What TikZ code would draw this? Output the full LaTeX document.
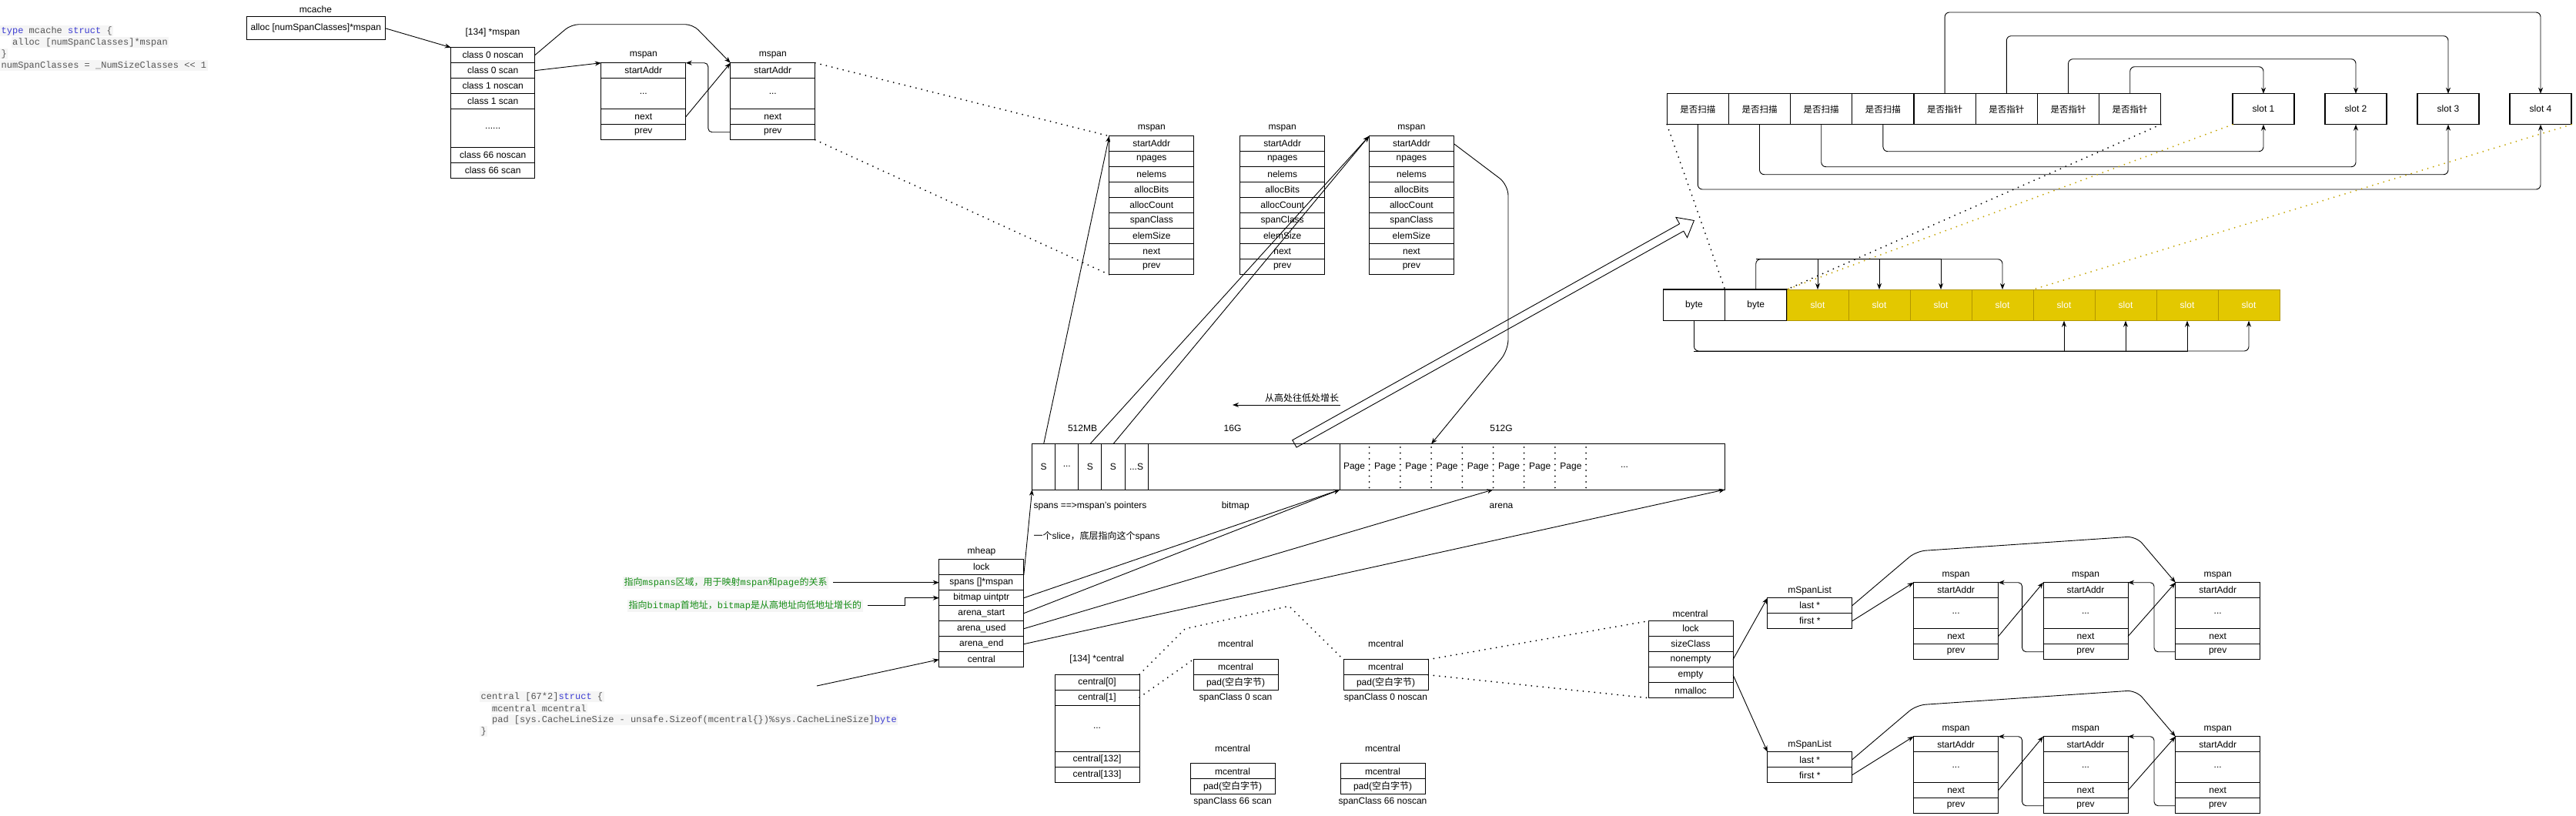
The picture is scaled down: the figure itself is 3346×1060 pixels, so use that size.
\documentclass[tikz,border=0pt]{standalone}
\usepackage{fontspec}
\setmainfont{Liberation Sans}
\setmonofont{Liberation Mono}
\newfontfamily\cjk{Noto Sans CJK SC}
\usetikzlibrary{arrows.meta}

\definecolor{codebg}{RGB}{245,245,245}
\definecolor{codefg}{RGB}{85,85,85}
\definecolor{kwblue}{RGB}{60,60,210}
\definecolor{notegreen}{RGB}{20,140,20}
\definecolor{slotfill}{RGB}{227,200,0}
\definecolor{slotline}{RGB}{178,150,0}
\definecolor{golddot}{RGB}{196,164,0}

\tikzset{
  cell/.style={draw, line width=0.9pt, anchor=north west, minimum width=110pt,
    minimum height=20pt, inner sep=0pt, outer sep=0pt},
  lbl/.style={inner sep=0pt},
  arr/.style={line width=0.9pt, -{Stealth[length=8pt,width=6pt]}},
  dots/.style={line width=2pt, line cap=round, dash pattern=on 0pt off 7.5pt},
  code/.style={anchor=west, fill=codebg, text=codefg, inner sep=1.5pt,
    font=\fontsize{12}{14}\ttfamily},
  note/.style={anchor=west, fill=codebg, text=notegreen, inner sep=1.5pt},
  bitcell/.style={cell, line width=1.2pt, minimum width=80.2pt, minimum height=40pt,
    font=\fontsize{11.5}{13}\cjk},
  slotbox/.style={cell, line width=1.2pt, minimum width=80pt, minimum height=40pt},
  slotcell/.style={cell, fill=slotfill, draw=slotline, text=white,
    minimum width=80pt, minimum height=40.7pt},
}

\begin{document}
\begin{tikzpicture}[x=1pt, y=-1pt, font=\fontsize{12}{14}\selectfont]
  \fill[white] (0,0) rectangle (3346,1060);
  \useasboundingbox (0,0) rectangle (3346,1060);

  % mcache の定義
  \node[code] (cd1) at (0,40) {\textcolor{kwblue}{type} mcache \textcolor{kwblue}{struct} \{};
  \node[code] (cd2) at (14.4,55) {alloc [numSpanClasses]*mspan};
  \node[code] (cd3) at (0,70) {\}};
  \node[code] (cd4) at (0,85) {numSpanClasses = \_NumSizeClasses << 1};

  \node[lbl] at (410,12) {mcache};
  \node[cell, minimum width=180pt, minimum height=30pt] (cache) at (320.3,21.7) {alloc [numSpanClasses]*mspan};

  % [134] *mspan
  \node[lbl] at (640,42.7) {[134] *mspan};
  \node[cell, minimum width=109pt] (cls1) at (585.7,61.7) {class 0 noscan};
  \node[cell, minimum width=109pt] (cls2) at (585.7,81.7) {class 0 scan};
  \node[cell, minimum width=109pt] (cls3) at (585.7,101.7) {class 1 noscan};
  \node[cell, minimum width=109pt] (cls4) at (585.7,121.7) {class 1 scan};
  \node[cell, minimum width=109pt, minimum height=50pt] (cls5) at (585.7,141.7) {......};
  \node[cell, minimum width=109pt] (cls6) at (585.7,191.7) {class 66 noscan};
  \node[cell, minimum width=109pt] (cls7) at (585.7,211.7) {class 66 scan};

  % 小さい mspan
  \foreach \n/\x in {sa/780.8, sb/948.8} {
    \node[lbl] at (\x+55,72) {mspan};
    \node[cell] (\n1) at (\x,81.7) {startAddr};
    \node[cell, minimum height=40pt] (\n2) at (\x,101.7) {...};
    \node[cell] (\n3) at (\x,141.7) {next};
    \node[cell] (\n4) at (\x,161.7) {prev};
  }

  \draw[arr] (cache.east) -- (cls1.north west);
  \draw[arr] (cls2.east) -- (sa1.north west);
  \draw[arr, rounded corners=10pt] (cls1.east) -- (742,31.7) -- (900,31.7) -- (sb1.north west);
  \draw[arr] (sa3.east) -- (sb1.north west);
  \draw[arr, rounded corners=5pt] (sb4.west) -- ++(-29,0) |- (sa1.north east);

  % 大きい mspan
  \foreach \n/\x in {pa/1440.8, pb/1610.7, pc/1778.4} {
    \node[lbl] at (\x+55,167) {mspan};
    \foreach \lab [count=\i] in {startAddr,npages,nelems,allocBits,allocCount,spanClass,elemSize,next,prev}
      \node[cell] (\n\i) at (\x,{176.7+20*(\i-1)}) {\lab};
  }
  \draw[dots] (sb1.north east) -- (pa1.north west);
  \draw[dots] (sb4.south east) -- (pa9.south west);

  % spans / bitmap / arena
  \node[draw, line width=0.9pt, anchor=north west, minimum width=899.9pt, minimum height=59.3pt,
    inner sep=0pt, outer sep=0pt] (bar) at (1340.6,576.7) {};
  \node[cell, minimum width=30.1pt, minimum height=59.3pt] (s1) at (1340.6,576.7) {S};
  \node[cell, minimum width=30.1pt, minimum height=59.3pt] (s2) at (1370.7,576.7) {...};
  \node[cell, minimum width=30.1pt, minimum height=59.3pt] (s3) at (1400.8,576.7) {S};
  \node[cell, minimum width=30.1pt, minimum height=59.3pt] (s4) at (1430.9,576.7) {S};
  \node[cell, minimum width=30.1pt, minimum height=59.3pt] (s5) at (1461,576.7) {...S};
  \coordinate (split) at (1740.6,636);
  \draw[line width=0.9pt] (split) -- (split |- bar.north);
  \foreach \k in {0,...,7} {
    \node[lbl] at ({1759+40.2*\k},606.7) {Page};
    \draw[dots] ({1778.7+40.2*\k},581) -- ++(0,55);
  }
  \node[lbl] at (2110,606.7) {...};
  \coordinate (pg3) at (1859.1,576.7);
  \coordinate (pg5) at (1939.5,636);

  \node[lbl] at (1406,556.7) {512MB};
  \node[lbl] at (1601,556.7) {16G};
  \node[lbl] at (1950,556.7) {512G};
  \node[lbl] (grow) at (1691,516.7) {\cjk 从高处往低处增长};
  \coordinate (growR) at (1740.6,526);
  \coordinate (growL) at (1601,526);
  \draw[arr] (growR) -- (growL);
  \node[lbl, anchor=west] at (1342.4,657.3) {spans ==>mspan's pointers};
  \node[lbl] at (1604.8,657.3) {bitmap};
  \node[lbl] at (1950,657.3) {arena};
  \node[lbl, anchor=west] at (1342.4,696.7) {{\cjk 一个}slice{\cjk ，底层指向这个}spans};

  \draw[arr] (s1.north) -- (pa1.north west);
  \draw[arr] (s3.north) -- (pc1.north west);
  \draw[arr] (s4.north) -- (pc1.north west);
  \draw[arr, rounded corners=14pt] (pc1.east) -- (1959,240) -- (1959,455) -- (pg3);

  % bitmap からの太い矢印
  \coordinate (bmtail) at (1681.4,576.4);
  \begin{scope}[shift={(bmtail)}, rotate=29.19]
    \draw[line width=0.9pt, line join=miter] (0,-5.4) -- (576,-5.4) -- (576,-15) -- (594.5,0)
      -- (576,15) -- (576,5.4) -- (0,5.4) -- cycle;
  \end{scope}

  % mheap
  \node[lbl] at (1275,716.7) {mheap};
  \foreach \lab [count=\i] in {lock,spans []*mspan,bitmap uintptr,arena\_start,arena\_used,arena\_end,central}
    \node[cell] (hp\i) at (1219.8,{726.7+20*(\i-1)}) {\lab};

  \draw[arr] (hp2.north east) -- (s1.south west);
  \draw[arr] (hp3.east) -- (split);
  \draw[arr] (hp4.east) -- (split);
  \draw[arr] (hp5.east) -- (pg5);
  \draw[arr] (hp6.east) -- (bar.south east);

  \node[note] (note1) at (808.8,756.7) {{\cjk 指向}\texttt{mspans}{\cjk 区域，用于映射}\texttt{mspan}{\cjk 和}\texttt{page}{\cjk 的关系}};
  \node[note] (note2) at (815,786.7) {{\cjk 指向}\texttt{bitmap}{\cjk 首地址，}\texttt{bitmap}{\cjk 是从高地址向低地址增长的}};
  \draw[arr, shorten <=6pt] (note1.east) -- (hp2.west);
  \draw[arr, shorten <=6pt] (note2.east) -- ++(55,0) |- (hp3.west);

  % central の定義
  \node[code] (cc0) at (623,905) {central [67*2]\textcolor{kwblue}{struct} \{};
  \node[code] (cc1) at (637.4,920) {mcentral mcentral};
  \node[code] (cc2) at (637.4,935) {pad [sys.CacheLineSize - unsafe.Sizeof(mcentral\{\})\%sys.CacheLineSize]\textcolor{kwblue}{byte}};
  \node[code] (cc3) at (623,950) {\}};
  \coordinate (codetip) at (1061,891);
  \draw[arr] (codetip) -- (hp7.west);

  % [134] *central
  \node[lbl] at (1424.8,856.7) {[134] *central};
  \node[cell] (ct1) at (1370,876) {central[0]};
  \node[cell] (ct2) at (1370,896) {central[1]};
  \node[cell, minimum height=60pt] (ct3) at (1370,916) {...};
  \node[cell] (ct4) at (1370,976) {central[132]};
  \node[cell] (ct5) at (1370,996) {central[133]};

  \foreach \n/\x/\y/\cls in {ma/1550/856.7/spanClass 0 scan, mb/1745/856.7/spanClass 0 noscan,
      mc/1546/991.7/spanClass 66 scan, md/1741/991.7/spanClass 66 noscan} {
    \node[lbl] at (\x+55,\y-20) {mcentral};
    \node[cell] (\n1) at (\x,\y) {mcentral};
    \node[cell] (\n2) at (\x,\y+20) {pad({\cjk 空白字节})};
    \node[lbl] at (\x+55,\y+50) {\cls};
  }

  % mcentral
  \node[lbl] at (2195.5,797.3) {mcentral};
  \foreach \lab [count=\i] in {lock,sizeClass,nonempty,empty,nmalloc}
    \node[cell] (bc\i) at (2141,{806.7+20*(\i-1)}) {\lab};

  \draw[dots] (ct1.north east) -- (1539.5,816.7) -- (1674.4,787.3) -- (mb1.north west);
  \draw[dots] (ct2.east) -- (ma1.north west);
  \draw[dots] (mb1.north east) -- (bc1.north west);
  \draw[dots] (mb1.south east) -- (bc5.south west);

  % mSpanList と mspan のリスト
  \foreach \rw/\dy in {u/0, w/200} {
    \node[lbl] at (2350.6,{767.3+\dy}) {mSpanList};
    \node[cell] (\rw L1) at (2295.8,{776.7+\dy}) {last *};
    \node[cell] (\rw L2) at (2295.8,{796.7+\dy}) {first *};
    \foreach \col/\x in {A/2485.6, B/2654, C/2825.7} {
      \node[lbl] at (\x+55,{747.3+\dy}) {mspan};
      \node[cell] (\rw\col1) at (\x,{756.7+\dy}) {startAddr};
      \node[cell, minimum height=40pt] (\rw\col2) at (\x,{776.7+\dy}) {...};
      \node[cell] (\rw\col3) at (\x,{816.7+\dy}) {next};
      \node[cell] (\rw\col4) at (\x,{836.7+\dy}) {prev};
    }
    \draw[arr] (\rw L2.east) -- (\rw A1.north west);
    \draw[arr, rounded corners=12pt] (\rw L1.east) -- (2489,{716+\dy}) -- (2774.7,{696.7+\dy}) -- (\rw C1.north west);
    \draw[arr] (\rw A3.east) -- (\rw B1.north west);
    \draw[arr] (\rw B3.east) -- (\rw C1.north west);
    \draw[arr, rounded corners=5pt] (\rw B4.west) -- ++(-27.4,0) |- (\rw A1.north east);
    \draw[arr, rounded corners=5pt] (\rw C4.west) -- ++(-27.7,0) |- (\rw B1.north east);
  }
  \draw[arr] (bc3.east) -- (uL1.north west);
  \draw[arr] (bc4.east) -- (wL1.north west);

  % bitmap のビットと slot
  \foreach \i in {1,...,4}
    \node[bitcell] (bit\i) at ({2165.2+80.2*(\i-1)},121.7) {是否扫描};
  \foreach \i in {5,...,8}
    \node[bitcell] (bit\i) at ({2165.2+80.2*(\i-1)},121.7) {是否指针};
  \foreach \i in {1,...,4}
    \node[slotbox] (slot\i) at ({2900+120*(\i-1)},121.7) {slot \i};

  \draw[arr, rounded corners=6pt] (bit5.north) -- ++(0,-105.7) -| (slot4.north);
  \draw[arr, rounded corners=6pt] (bit6.north) -- ++(0,-75) -| (slot3.north);
  \draw[arr, rounded corners=6pt] (bit7.north) -- ++(0,-45) -| (slot2.north);
  \draw[arr, rounded corners=6pt] (bit8.north) -- ++(0,-35) -| (slot1.north);
  \draw[arr, rounded corners=6pt] (bit1.south) -- ++(0,84.3) -| (slot4.south);
  \draw[arr, rounded corners=6pt] (bit2.south) -- ++(0,65) -| (slot3.south);
  \draw[arr, rounded corners=6pt] (bit3.south) -- ++(0,55) -| (slot2.south);
  \draw[arr, rounded corners=6pt] (bit4.south) -- ++(0,35) -| (slot1.south);

  % byte と slot の並び
  \node[cell, line width=1.2pt, minimum width=80.3pt, minimum height=40.7pt] (by1) at (2160.3,376) {byte};
  \node[cell, line width=1.2pt, minimum width=80.3pt, minimum height=40.7pt] (by2) at (2240.6,376) {byte};
  \foreach \i in {1,...,8}
    \node[slotcell] (sl\i) at ({2321+80*(\i-1)},376) {slot};

  \draw[dots] (bit1.south west) -- (by1.north east);
  \draw[dots] (bit8.south east) -- (by2.north east);
  \draw[dots, golddot] (slot1.south west) -- (sl1.north west);
  \draw[dots, golddot] (slot4.south east) -- (sl5.north west);

  \draw[arr, rounded corners=6pt] (by2.north) -- ++(0,-39.3) -| (sl4.north);
  \foreach \i in {1,2,3}
    \draw[arr] (by2.north) ++(0,-39.3) -| (sl\i.north);
  \draw[arr, rounded corners=6pt] (by1.south) -- ++(0,39.3) -| (sl8.south);
  \foreach \i in {5,6,7}
    \draw[arr] (by1.south) ++(0,39.3) -| (sl\i.south);
\end{tikzpicture}
\end{document}
